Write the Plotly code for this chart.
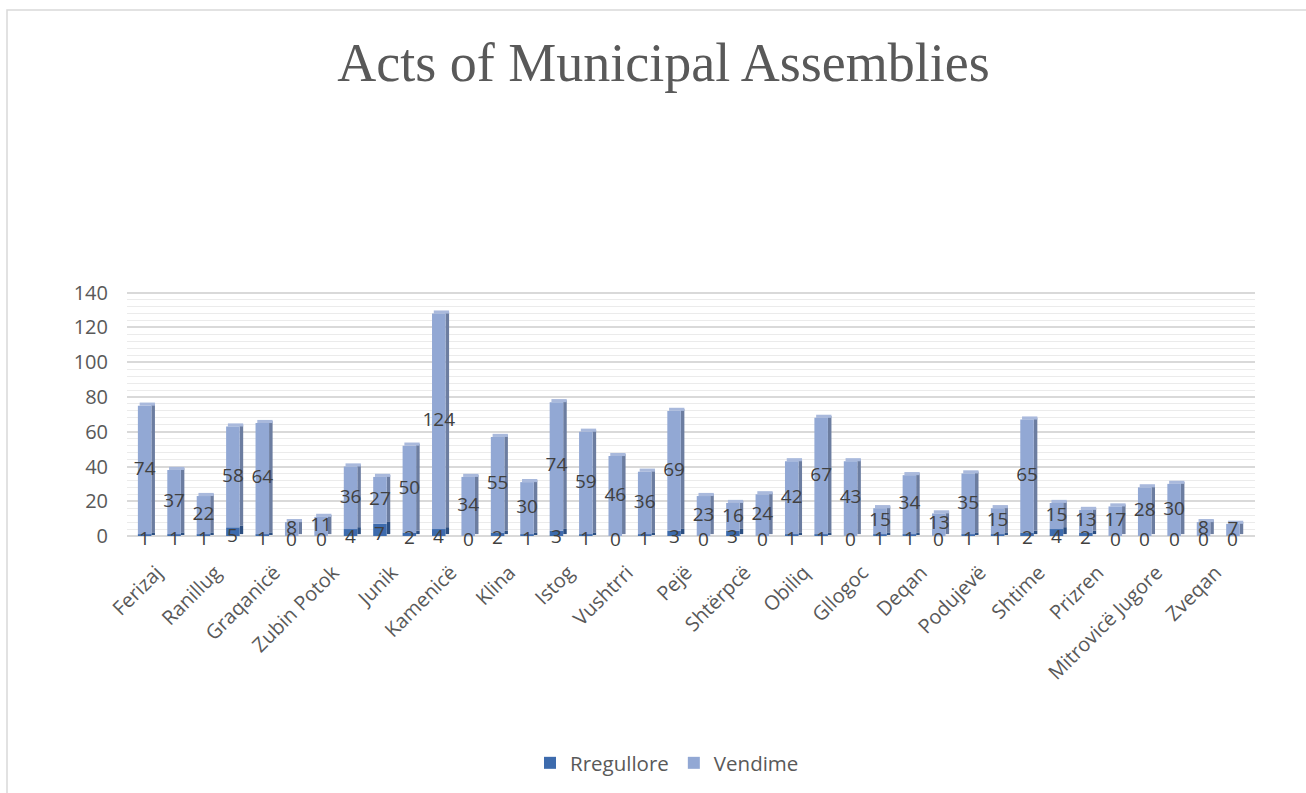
import plotly.graph_objects as go

categories = [
    "Ferizaj", "Prishtinë", "Ranillug", "Gjilan", "Graqanicë", "Mitrovicë Veriore",
    "Zubin Potok", "Gjakovë", "Junik", "Fushë Kosovë", "Kamenicë", "Novobërdë",
    "Klina", "Hani i Elezit", "Istog", "Lipjan", "Vushtrri", "Kllokot",
    "Pejë", "Partesh", "Shtërpcë", "Dragash", "Obiliq", "Malishevë",
    "Gllogoc", "Mamushë", "Deqan", "Kaçanik", "Podujevë", "Rahovec",
    "Shtime", "Skenderaj", "Prizren", "Suharekë", "Mitrovicë Jugore", "Viti",
    "Zveqan", "Leposaviq",
]
rregullore = [1, 1, 1, 5, 1, 0, 0, 4, 7, 2, 4, 0, 2, 1, 3, 1, 0, 1, 3, 0,
              3, 0, 1, 1, 0, 1, 1, 0, 1, 1, 2, 4, 2, 0, 0, 0, 0, 0]
vendime = [74, 37, 22, 58, 64, 8, 11, 36, 27, 50, 124, 34, 55, 30, 74, 59, 46, 36, 69, 23,
           16, 24, 42, 67, 43, 15, 34, 13, 35, 15, 65, 15, 13, 17, 28, 30, 8, 7]
tick_labels = categories[::2]

FONT = "Open Sans"
DEPTH = 1.8      # apparent 3D lift (value units)
W = 0.46         # front face width
SIDE = 0.12      # side face width
SHIFT = 0.06

totals = [r + v for r, v in zip(rregullore, vendime)]

fig = go.Figure()

# side faces
fig.add_trace(go.Bar(x=categories, y=rregullore, base=[DEPTH * 0.6] * len(categories),
                     offset=W / 2, width=SIDE, marker=dict(color="#2C4E80", line=dict(width=0)),
                     showlegend=False, hoverinfo="skip"))
fig.add_trace(go.Bar(x=categories, y=vendime, base=[r + DEPTH * 0.6 for r in rregullore],
                     offset=W / 2, width=SIDE, marker=dict(color="#6C7DA0", line=dict(width=0)),
                     showlegend=False, hoverinfo="skip"))
# top faces
fig.add_trace(go.Bar(x=categories, y=[DEPTH] * len(categories), base=totals,
                     offset=-W / 2 + SHIFT, width=W + SIDE - SHIFT,
                     marker=dict(color="#A9B9DC", line=dict(width=0)),
                     showlegend=False, hoverinfo="skip"))
# front faces
fig.add_trace(go.Bar(name="Rregullore", x=categories, y=rregullore, base=[0] * len(categories),
                     offset=-W / 2, width=W, marker=dict(color="#3D6BAD", line=dict(width=0)),
                     hoverinfo="skip"))
fig.add_trace(go.Bar(name="Vendime", x=categories, y=vendime, base=rregullore,
                     offset=-W / 2, width=W, marker=dict(color="#92A8D4", line=dict(width=0)),
                     hoverinfo="skip"))

# data labels: Vendime (segment centres)
fig.add_trace(go.Scatter(x=categories, y=[r + v / 2 for r, v in zip(rregullore, vendime)],
                         mode="text", text=[str(v) for v in vendime],
                         textfont=dict(family=FONT, size=19, color="#404040"),
                         showlegend=False, hoverinfo="skip"))

# data labels: Rregullore (annotations so they are not clipped at the floor)
annotations = [
    dict(x=c, y=r / 2, xref="x", yref="y", text=str(r), showarrow=False,
         yshift=-3, font=dict(family=FONT, size=19, color="#404040"))
    for c, r in zip(categories, rregullore)
]

fig.update_layout(
    width=1306, height=793,
    barmode="overlay",
    paper_bgcolor="white", plot_bgcolor="white",
    margin=dict(l=127, r=51, t=291, b=257),
    title=dict(text="Acts of Municipal Assemblies", x=0.508, xref="container",
               y=1 - 62 / 793, yref="container", xanchor="center", yanchor="middle",
               font=dict(family="Liberation Serif", size=54, color="#595959")),
    font=dict(family=FONT, color="#595959"),
    showlegend=True,
    legend=dict(orientation="h", x=667 / 1306, xref="container", xanchor="center",
                y=1 - 763 / 793, yref="container", yanchor="middle",
                font=dict(family=FONT, size=20.5, color="#595959"),
                traceorder="normal", itemwidth=30),
    xaxis=dict(type="category", range=[-0.6, 37.75], showgrid=False, showline=False,
               tickmode="array", tickvals=tick_labels, ticktext=tick_labels,
               tickangle=-45, ticks="", ticklabelstandoff=20, ticklabelshift=12,
               tickfont=dict(family=FONT, size=20, color="#595959")),
    yaxis=dict(range=[0, 141], dtick=20, tick0=0, showgrid=True, gridcolor="#D9D9D9",
               gridwidth=1.5, zeroline=True, zerolinecolor="#D9D9D9", zerolinewidth=2,
               showline=False, ticks="", ticklabelstandoff=18,
               tickfont=dict(family=FONT, size=20, color="#595959"),
               minor=dict(dtick=4, showgrid=True, gridcolor="#EBEBEB", gridwidth=1)),
    annotations=annotations,
    shapes=[dict(type="rect", xref="paper", yref="paper",
                 x0=-120 / 1128, x1=1190 / 1128, y0=-300 / 245, y1=526 / 245,
                 line=dict(color="#D9D9D9", width=1.5), layer="below")],
)

fig.write_html("out.html")
